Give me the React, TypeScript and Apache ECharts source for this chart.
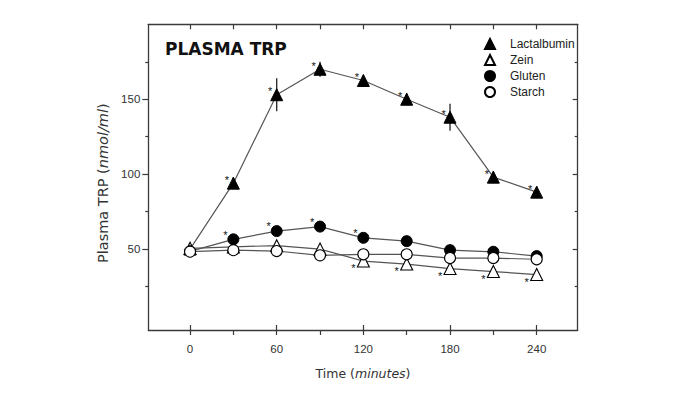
import React, { useEffect, useRef } from "react";
import * as echarts from "echarts";

const TIME = [0, 30, 60, 90, 120, 150, 180, 210, 240];
const LACT = [50, 94, 153, 170, 162.5, 150, 138, 98, 88];
const LACT_ERR = [3, 4, 11, 5, 3.5, 4, 9, 4, 4];
const LACT_SIG = [0, 1, 1, 1, 1, 1, 1, 1, 1];
const ZEIN = [50.5, 51.5, 52.3, 50, 42, 40, 37, 35, 33];
const ZEIN_ERR = [3, 2, 2, 2, 3.5, 3.5, 3.5, 3.5, 3.5];
const ZEIN_SIG = [0, 0, 0, 0, 1, 1, 1, 1, 1];
const GLUTEN = [48.5, 56.5, 62, 65, 57.5, 55.3, 49.3, 48.2, 45.3];
const GLUTEN_ERR = [2, 2, 2, 2, 2, 2, 2, 2, 2];
const GLUTEN_SIG = [0, 1, 1, 1, 1, 0, 0, 0, 0];
const STARCH = [48.3, 49.3, 48.7, 45.8, 46.5, 46.5, 44, 44, 43.2];
const STARCH_ERR = [2, 2, 2, 2, 2, 2, 2, 2, 2];

const X_LABELS = [0, 60, 120, 180, 240];
const X_TICKS = [0, 30, 60, 90, 120, 150, 180, 210, 240];
const Y_LABELS = [50, 100, 150];
const Y_MINOR = [25, 75, 125, 175];

const X_MIN = -28.9;
const X_MAX = 268.4;
const Y_MIN = -4;
const Y_MAX = 200;

const SANS = "Liberation Sans, Arial, sans-serif";
const WIDE = "DejaVu Sans, sans-serif";
const AX = "#3a3a3a";
const LINE = "#555";

function App() {
  const ref = useRef<HTMLDivElement>(null);
  useEffect(() => {
    if (!ref.current) return;
    const chart = echarts.init(ref.current, null, { renderer: "svg" });

    const labelStyle = { fontSize: 11, color: "#111", fontFamily: SANS };

    const mk = (vals: number[], sig: number[] | null, offset: number[]) =>
      vals.map((v, i) => ({
        value: [TIME[i], v],
        label:
          sig && sig[i]
            ? { show: true, formatter: "*", position: "inside", offset, ...labelStyle }
            : { show: false },
      }));

    const errData: number[][] = [];
    [
      [LACT, LACT_ERR],
      [ZEIN, ZEIN_ERR],
      [GLUTEN, GLUTEN_ERR],
      [STARCH, STARCH_ERR],
    ].forEach(([vals, errs]) => {
      vals.forEach((v, i) => errData.push([TIME[i], v, errs[i]]));
    });

    const baseX = {
      type: "value" as const,
      min: X_MIN,
      max: X_MAX,
      splitLine: { show: false },
    };
    const baseY = {
      type: "value" as const,
      min: Y_MIN,
      max: Y_MAX,
      splitLine: { show: false },
    };
    const axLine = { show: true, onZero: false, lineStyle: { color: AX, width: 1.3 } };
    const noLine = { show: false, onZero: false };
    const tickStyle = { color: AX, width: 1.2 };

    chart.setOption({
      animation: false,
      backgroundColor: "#fff",
      title: {
        text: "PLASMA TRP",
        left: 165,
        top: 40,
        padding: 0,
        textStyle: { fontFamily: WIDE, fontWeight: "bold", fontSize: 17, color: "#111" },
      },
      legend: {
        orient: "vertical",
        left: 484,
        top: 38,
        padding: 0,
        itemWidth: 10,
        itemHeight: 10,
        itemGap: 4,
        selectedMode: false,
        textStyle: { fontSize: 12, color: "#222", fontFamily: SANS, padding: [0, 0, 0, 10] },
        data: [
          { name: "Lactalbumin", icon: "triangle" },
          { name: "Zein", icon: "triangle" },
          { name: "Gluten", icon: "circle" },
          { name: "Starch", icon: "circle" },
        ],
      },
      grid: {
        left: 148.3,
        right: 121.3,
        top: 24.3,
        bottom: 67,
        outerBoundsMode: "none",
      },
      xAxis: [
        {
          ...baseX,
          position: "bottom",
          axisLine: axLine,
          axisTick: { show: true, inside: false, length: 5, customValues: X_TICKS, lineStyle: tickStyle },
          axisLabel: { customValues: X_LABELS, margin: 13, fontSize: 11.5, color: "#333", fontFamily: SANS },
          name: "{n|Time (}{i|minutes}{n|)}",
          nameLocation: "middle",
          nameGap: 37,
          nameTextStyle: {
            fontFamily: WIDE,
            fontSize: 12.5,
            color: "#333",
            rich: {
              n: { fontFamily: WIDE, fontSize: 12.5, color: "#333" },
              i: { fontFamily: WIDE, fontSize: 12.5, color: "#333", fontStyle: "italic" },
            },
          },
        },
        {
          ...baseX,
          position: "bottom",
          axisLine: noLine,
          axisTick: { show: true, inside: true, length: 5, customValues: X_LABELS, lineStyle: tickStyle },
          axisLabel: { show: false },
        },
        {
          ...baseX,
          position: "top",
          axisLine: axLine,
          axisTick: { show: true, inside: true, length: 5, customValues: X_TICKS, lineStyle: tickStyle },
          axisLabel: { show: false },
        },
      ],
      yAxis: [
        {
          ...baseY,
          position: "left",
          axisLine: axLine,
          axisTick: { show: true, inside: false, length: 6, customValues: Y_LABELS, lineStyle: tickStyle },
          axisLabel: { customValues: Y_LABELS, margin: 8, fontSize: 11.5, color: "#333", fontFamily: SANS },
          name: "{n|Plasma TRP (}{i|nmol/ml}{n|)}",
          nameLocation: "middle",
          nameRotate: 90,
          nameGap: 35,
          nameTextStyle: {
            fontFamily: WIDE,
            fontSize: 14.5,
            color: "#333",
            padding: [0, 12, 0, 0],
            rich: {
              n: { fontFamily: WIDE, fontSize: 14.5, color: "#333" },
              i: { fontFamily: WIDE, fontSize: 14.5, color: "#333", fontStyle: "italic" },
            },
          },
        },
        {
          ...baseY,
          position: "left",
          axisLine: noLine,
          axisTick: { show: true, inside: false, length: 3, customValues: Y_MINOR, lineStyle: tickStyle },
          axisLabel: { show: false },
        },
        {
          ...baseY,
          position: "right",
          axisLine: axLine,
          axisTick: { show: true, inside: true, length: 5, customValues: Y_LABELS, lineStyle: tickStyle },
          axisLabel: { show: false },
        },
        {
          ...baseY,
          position: "right",
          axisLine: noLine,
          axisTick: { show: true, inside: true, length: 3, customValues: Y_MINOR, lineStyle: tickStyle },
          axisLabel: { show: false },
        },
      ],
      series: [
        {
          type: "custom",
          name: "err",
          z: 1,
          xAxisIndex: 0,
          yAxisIndex: 0,
          encode: { x: 0, y: 1 },
          data: errData,
          renderItem: (params: any, api: any) => {
            const x = api.value(0);
            const y = api.value(1);
            const e = api.value(2);
            const p1 = api.coord([x, y + e]);
            const p2 = api.coord([x, y - e]);
            return {
              type: "line",
              shape: { x1: p1[0], y1: p1[1], x2: p2[0], y2: p2[1] },
              style: { stroke: "#222", lineWidth: 1.3 },
            };
          },
        },
        {
          type: "line",
          name: "Lactalbumin",
          z: 3,
          data: mk(LACT, LACT_SIG, [-6.5, -3.5]),
          symbol: "triangle",
          symbolSize: 12,
          lineStyle: { color: LINE, width: 1.2 },
          itemStyle: { color: "#000", borderColor: "#000", borderWidth: 1 },
          label: labelStyle,
        },
        {
          type: "line",
          name: "Zein",
          z: 3,
          data: mk(ZEIN, ZEIN_SIG, [-10, 7.4]),
          symbol: "triangle",
          symbolSize: 12,
          lineStyle: { color: LINE, width: 1.2 },
          itemStyle: { color: "#fff", borderColor: "#000", borderWidth: 1.1 },
          label: labelStyle,
        },
        {
          type: "line",
          name: "Gluten",
          z: 3,
          data: mk(GLUTEN, GLUTEN_SIG, [-8, -4.6]),
          symbol: "circle",
          symbolSize: 11,
          lineStyle: { color: LINE, width: 1.2 },
          itemStyle: { color: "#000", borderColor: "#000", borderWidth: 1 },
          label: labelStyle,
        },
        {
          type: "line",
          name: "Starch",
          z: 3,
          data: mk(STARCH, null, [0, 0]),
          symbol: "circle",
          symbolSize: 11,
          lineStyle: { color: LINE, width: 1.2 },
          itemStyle: { color: "#fff", borderColor: "#000", borderWidth: 1.1 },
          label: labelStyle,
        },
      ],
    });
    return () => chart.dispose();
  }, []);
  return (
    <div
      ref={ref}
      style={{ position: "absolute", left: 0, top: 0, width: 699, height: 397, background: "#fff" }}
    />
  );
}

export default App;
